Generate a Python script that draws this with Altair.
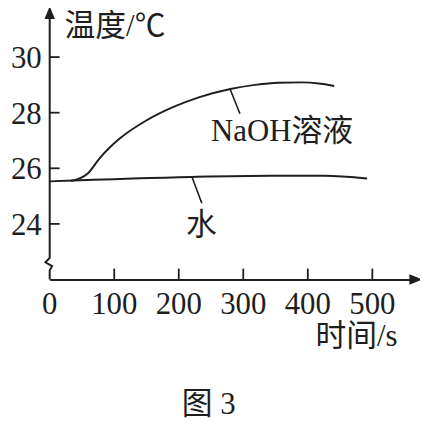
import altair as alt
import pandas as pd

# ---- data ----
naoh_t = [33, 59, 77, 108, 149, 190, 231, 280, 318, 354, 390, 420, 441]
naoh_T = [25.54, 25.81, 26.35, 27.06, 27.71, 28.19, 28.55, 28.85, 29.0, 29.08, 29.09, 29.04, 28.96]
water_t = [0, 220, 343, 426, 492]
water_T = [25.53, 25.69, 25.73, 25.73, 25.63]

x_ticks = [0, 100, 200, 300, 400, 500]
y_ticks = [24, 26, 28, 30]

label_names = ["NaOH溶液", "水"]
label_t = [360, 235]
label_T = [27.29, 23.91]
leader_t = [279.5, 220.5]
leader_t2 = [294.9, 235.8]
leader_T = [28.85, 25.69]
leader_T2 = [27.96, 24.74]

y_title = "温度/℃"
x_title = "时间/s"
fig_caption = "图 3"

XMAX = 558.5
YMIN, YMAX = 22, 31.39
W, H = 363, 263

FONT = "Liberation Serif, Noto Sans CJK SC"
NUMFONT = "Liberation Serif"
INK = "#1e1e1e"
FS = 31

xs = alt.Scale(domain=[0, XMAX], nice=False, zero=False)
ys = alt.Scale(domain=[YMIN, YMAX], nice=False, zero=False)

curves = pd.DataFrame(
    {"t": naoh_t + water_t,
     "T": naoh_T + water_T,
     "s": ["NaOH"] * len(naoh_t) + ["water"] * len(water_t)}
)

xaxis = alt.Axis(values=x_ticks, ticks=False, labels=False, grid=False, title=None,
                 domain=True, domainColor=INK, domainWidth=2)

lines = alt.Chart(curves).mark_line(interpolate="monotone", color=INK, strokeWidth=2).encode(
    x=alt.X("t:Q", scale=xs, axis=xaxis),
    y=alt.Y("T:Q", scale=ys, axis=None),
    detail="s:N",
)

# y axis line with the break mark
yline_df = pd.DataFrame({
    "i": [0, 1, 2, 3, 4, 5],
    "t": [0, 0, 3.7, -6.6, 0, 0],
    "T": [YMIN, 22.33, 22.48, 22.62, 22.78, YMAX],
})
yline = alt.Chart(yline_df).mark_line(color=INK, strokeWidth=2, clip=False).encode(
    x=alt.X("t:Q", scale=xs), y=alt.Y("T:Q", scale=ys), order="i:Q"
)

# inward ticks
xt = alt.Chart(pd.DataFrame({"t": x_ticks[1:]})).mark_rule(color=INK, strokeWidth=1.8).encode(
    x=alt.X("t:Q", scale=xs), y=alt.value(H), y2=alt.value(H - 11)
)
yt = alt.Chart(pd.DataFrame({"T": y_ticks})).mark_rule(color=INK, strokeWidth=1.8).encode(
    y=alt.Y("T:Q", scale=ys), x=alt.value(0), x2=alt.value(10)
)

# tick labels
xl = alt.Chart(pd.DataFrame({"t": x_ticks, "lab": [str(v) for v in x_ticks]})).mark_text(
    font=NUMFONT, fontSize=FS, color=INK, align="center", baseline="alphabetic"
).encode(x=alt.X("t:Q", scale=xs), y=alt.value(H + 35), text="lab:N")
yl = alt.Chart(pd.DataFrame({"T": y_ticks, "lab": [str(v) for v in y_ticks]})).mark_text(
    font=NUMFONT, fontSize=FS, color=INK, align="right", baseline="alphabetic", dy=11
).encode(y=alt.Y("T:Q", scale=ys), x=alt.value(-8), text="lab:N")

# axis titles and caption
titles_df = pd.DataFrame({"txt": [y_title, x_title, fig_caption]})
ytit = alt.Chart(titles_df.iloc[[0]]).mark_text(
    font=FONT, fontSize=FS, color=INK, align="left", baseline="alphabetic"
).encode(x=alt.value(15), y=alt.value(18), text="txt:N")
xtit = alt.Chart(titles_df.iloc[[1]]).mark_text(
    font=FONT, fontSize=FS, color=INK, align="center", baseline="alphabetic"
).encode(x=alt.value(309), y=alt.value(H + 67), text="txt:N")
cap = alt.Chart(titles_df.iloc[[2]]).mark_text(
    font=FONT, fontSize=FS, color=INK, align="left", baseline="alphabetic"
).encode(x=alt.value(133), y=alt.value(H + 135), text="txt:N")

# arrows
up = alt.Chart(pd.DataFrame({"t": [0], "T": [YMAX]})).mark_point(
    shape="M0,-1.75L0.75,0.1L-0.75,0.1Z", size=196, filled=True, color=INK, opacity=1, clip=False
).encode(x=alt.X("t:Q", scale=xs), y=alt.Y("T:Q", scale=ys))
right = alt.Chart(pd.DataFrame({"t": [XMAX], "T": [YMIN]})).mark_point(
    shape="M1.75,0L-0.1,-0.75L-0.1,0.75Z", size=196, filled=True, color=INK, opacity=1, clip=False
).encode(x=alt.X("t:Q", scale=xs), y=alt.Y("T:Q", scale=ys))

labels_df = pd.DataFrame({"name": label_names, "t": label_t, "T": label_T,
                          "lt": leader_t, "lt2": leader_t2, "lT": leader_T, "lT2": leader_T2})
leaders = alt.Chart(labels_df).mark_rule(color=INK, strokeWidth=1.6).encode(
    x=alt.X("lt:Q", scale=xs), x2="lt2:Q", y=alt.Y("lT:Q", scale=ys), y2="lT2:Q"
)
texts = alt.Chart(labels_df).mark_text(font=FONT, fontSize=FS, color=INK, align="center",
                                        baseline="middle").encode(
    x=alt.X("t:Q", scale=xs), y=alt.Y("T:Q", scale=ys), text="name:N"
)

chart = alt.layer(lines, yline, xt, yt, xl, yl, ytit, xtit, cap, up, right, leaders, texts).properties(
    width=W, height=H,
    autosize=alt.AutoSizeParams(type="none"),
    padding={"left": 42, "top": 9, "right": 10, "bottom": 140},
).configure_view(stroke=None)

chart.save("out.html", embed_options={"renderer": "svg", "actions": False})
